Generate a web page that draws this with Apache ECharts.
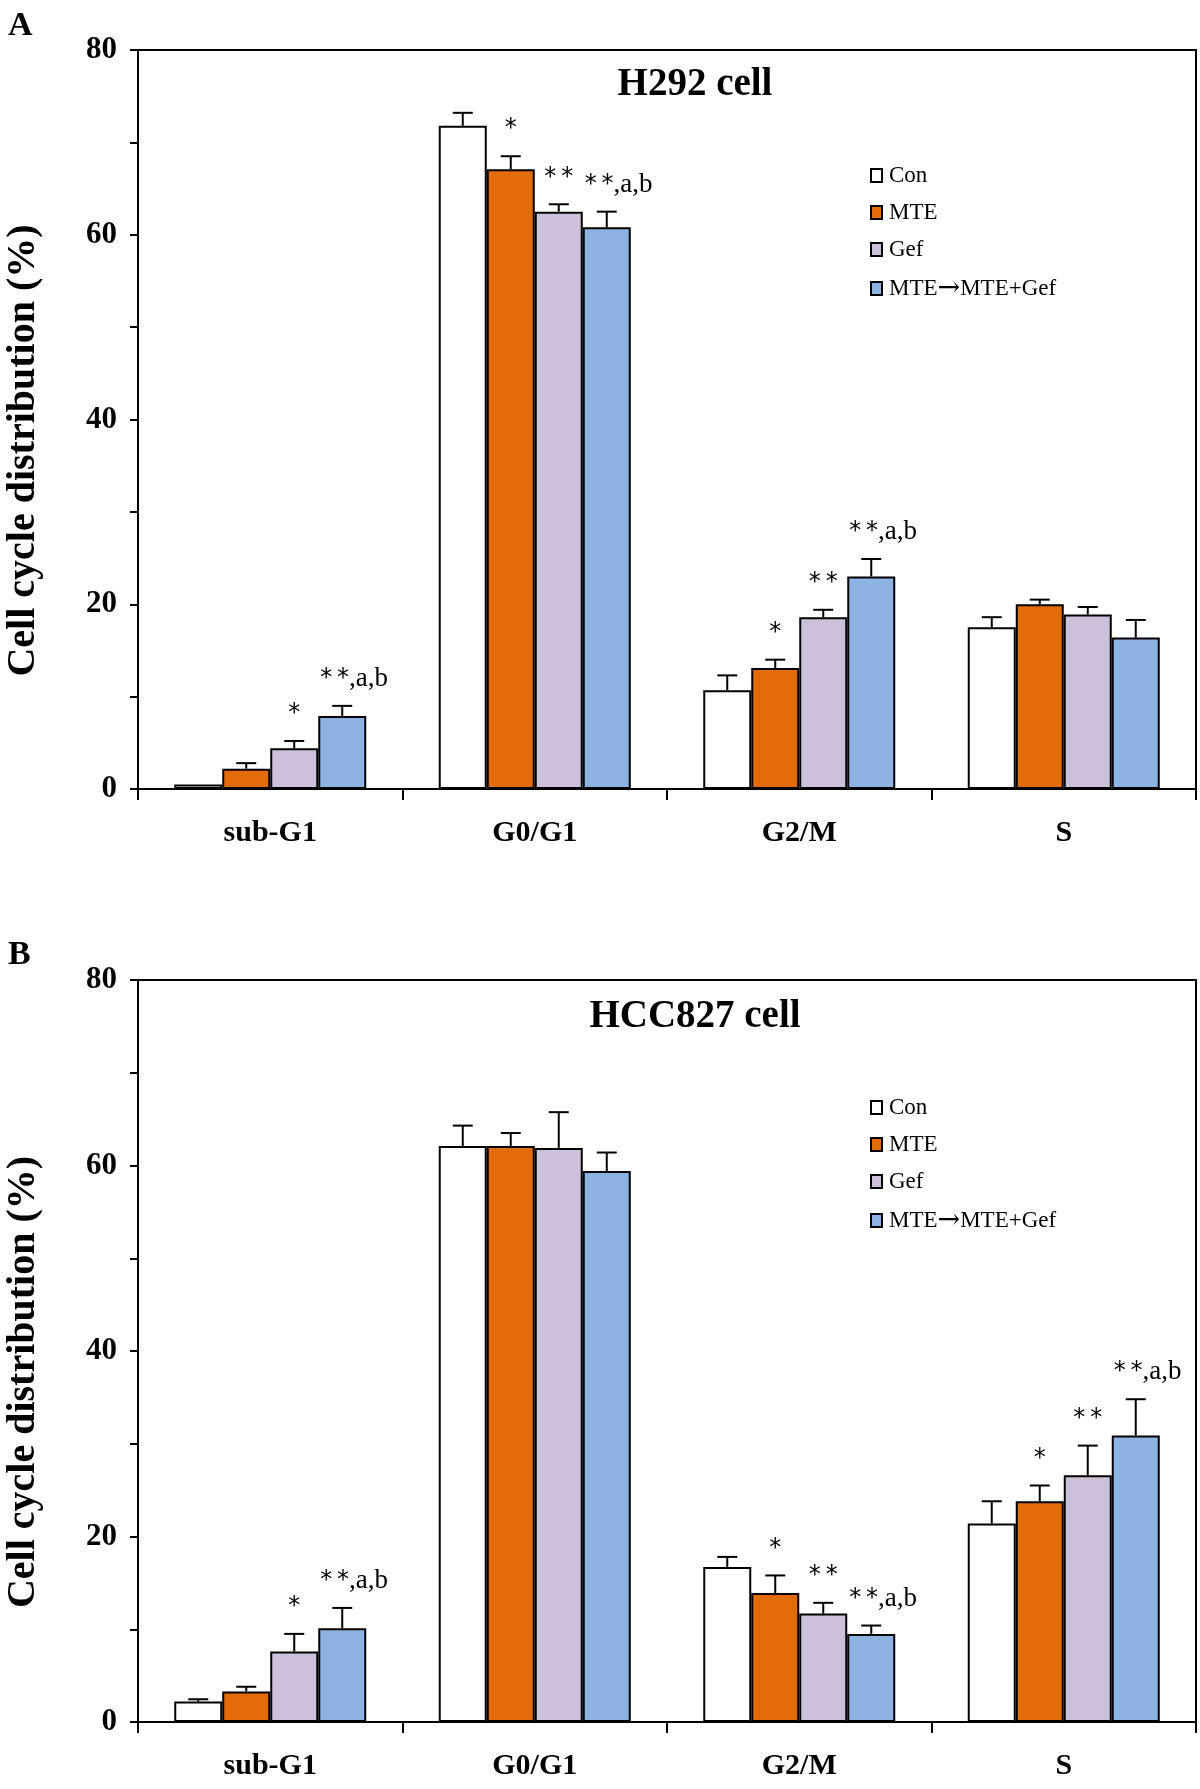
<!DOCTYPE html>
<html>
<head>
<meta charset="utf-8">
<script src="https://cdn.jsdelivr.net/npm/echarts@6/dist/echarts.min.js"></script>
<style>
html,body{margin:0;padding:0;background:#fff;}
#chart{width:1200px;height:1789px;}
</style>
</head>
<body>
<div id="chart"></div>
<script>
// ---- data ----
const categories = ['sub-G1', 'G0/G1', 'G2/M', 'S'];
const seriesNames = ['Con', 'MTE', 'Gef', 'MTE\u2192MTE+Gef'];
const yTicks = [0, 20, 40, 60, 80];

// Panel A : H292 cell
const h292Con    = [0.5, 71.8, 10.7, 17.5];
const h292ConErr = [0.0, 1.4, 1.6, 1.1];
const h292Mte    = [2.2, 67.1, 13.1, 20.0];
const h292MteErr = [0.6, 1.4, 0.9, 0.5];
const h292Gef    = [4.4, 62.5, 18.6, 18.9];
const h292GefErr = [0.8, 0.8, 0.8, 0.8];
const h292Comb   = [7.9, 60.8, 23.0, 16.4];
const h292CombErr= [1.1, 1.7, 1.9, 1.9];
const h292Sig = [
  ['', '', '', ''],
  ['', '*', '*', ''],
  ['*', '**', '**', ''],
  ['**,a,b', '**,a,b', '**,a,b', '']
];

// Panel B : HCC827 cell
const hccCon    = [2.2, 62.1, 16.7, 21.4];
const hccConErr = [0.25, 2.2, 1.1, 2.4];
const hccMte    = [3.3, 62.1, 13.9, 23.8];
const hccMteErr = [0.5, 1.4, 1.9, 1.7];
const hccGef    = [7.6, 61.9, 11.7, 26.6];
const hccGefErr = [1.9, 3.85, 1.15, 3.2];
const hccComb   = [10.1, 59.4, 9.5, 30.9];
const hccCombErr= [2.2, 2.0, 0.9, 3.9];
const hccSig = [
  ['', '', '', ''],
  ['', '', '*', '*'],
  ['*', '', '**', '**'],
  ['**,a,b', '', '**,a,b', '**,a,b']
];

// ---- styling ----
const FONT = '"Liberation Serif", "Times New Roman", serif';
const SANS = '"DejaVu Sans", "Liberation Sans", sans-serif';
const colors = ['#FFFFFF', '#E36C0A', '#CCC0DA', '#8DB3E2'];
const BAR_W = 48;

const panels = [
  {label:'A', title:'H292 cell', vals:[h292Con,h292Mte,h292Gef,h292Comb],
   errs:[h292ConErr,h292MteErr,h292GefErr,h292CombErr], sig:h292Sig,
   top:50, height:739, labelTop:9, titleTop:65, legendTop:164},
  {label:'B', title:'HCC827 cell', vals:[hccCon,hccMte,hccGef,hccComb],
   errs:[hccConErr,hccMteErr,hccGefErr,hccCombErr], sig:hccSig,
   top:980, height:742, labelTop:938, titleTop:997, legendTop:1096}
];

function sigRich(t) {
  // asterisks drawn in a sans face with a little spacing, the rest in serif
  const m = t.match(/^(\*+)(.*)$/);
  const stars = m[1].split('').join('\u2009');
  return '{s|' + stars + '}' + (m[2] ? '{t|' + m[2] + '}' : '');
}

const grids = [], xAxes = [], yAxes = [], series = [], titles = [], legends = [];

panels.forEach((p, g) => {
  grids.push({left:138, right:4, top:p.top, height:p.height, show:true,
    containLabel:false, outerBoundsMode:'none',
    borderColor:'#000', borderWidth:2, backgroundColor:'transparent'});
  xAxes.push({type:'category', gridIndex:g, data:categories,
    axisLine:{lineStyle:{color:'#000', width:2}},
    axisTick:{show:true, length:11, alignWithLabel:false, lineStyle:{color:'#000', width:2}},
    axisLabel:{margin:29, fontFamily:FONT, fontWeight:'bold', fontSize:30, color:'#000'}
  });
  yAxes.push({type:'value', gridIndex:g, min:0, max:80, interval:10,
    name:'Cell cycle distribution (%)', nameLocation:'middle', nameGap:94,
    nameTextStyle:{fontFamily:FONT, fontWeight:'bold', fontSize:40, color:'#000', padding:[0,62,0,0]},
    axisLine:{show:true, lineStyle:{color:'#000', width:2}},
    axisTick:{show:true, length:8, lineStyle:{color:'#000', width:2}},
    splitLine:{show:false},
    axisLabel:{margin:21, fontFamily:FONT, fontWeight:'bold', fontSize:31, color:'#000',
      formatter: v => yTicks.indexOf(v) >= 0 ? String(v) : ''}
  });
  titles.push({text:p.label, left:8, top:p.labelTop, padding:0,
    textStyle:{fontFamily:FONT, fontWeight:'bold', fontSize:34, color:'#000'}});
  titles.push({text:p.title, left:695, textAlign:'center', top:p.titleTop, padding:0,
    textStyle:{fontFamily:FONT, fontWeight:'bold', fontSize:39, color:'#000'}});
  legends.push({data:seriesNames, orient:'vertical', left:870, top:p.legendTop, padding:0,
    itemWidth:11, itemHeight:13, itemGap:14, icon:'rect',
    itemStyle:{borderColor:'#000', borderWidth:2},
    formatter: name => name.replace('\u2192', '{arr|\u2192}'),
    textStyle:{fontFamily:FONT, fontSize:23, color:'#000', padding:[0,0,0,2],
      rich:{arr:{fontFamily:'"DejaVu Serif", "DejaVu Sans", serif', fontSize:27, color:'#000'}}}});

  seriesNames.forEach((name, s) => {
    series.push({type:'bar', name:name, xAxisIndex:g, yAxisIndex:g,
      data:p.vals[s], barWidth:BAR_W, barGap:'0%',
      itemStyle:{color:colors[s], borderColor:'#000', borderWidth:2},
      emphasis:{disabled:true}, z:2});
  });
  seriesNames.forEach((name, s) => {
    const vals = p.vals[s], errs = p.errs[s], sig = p.sig[s];
    series.push({type:'custom', xAxisIndex:g, yAxisIndex:g, z:5, silent:true,
      data: vals.map((v, i) => [i, v, errs[i]]),
      renderItem: (params, api) => {
        const i = params.dataIndex;
        const ci = api.value(0), v = api.value(1), e = api.value(2);
        const base = api.coord([ci, v]);
        const tp = api.coord([ci, v + e]);
        const x = base[0] + (s - 1.5) * BAR_W;
        const children = [];
        if (e > 0) {
          children.push({type:'line', shape:{x1:x, y1:base[1], x2:x, y2:tp[1]},
            style:{stroke:'#000', lineWidth:2}});
          children.push({type:'line', shape:{x1:x-10, y1:tp[1], x2:x+10, y2:tp[1]},
            style:{stroke:'#000', lineWidth:2}});
        }
        const t = sig[i];
        if (t) {
          const multi = t.indexOf(',') >= 0;
          children.push({type:'text', x: multi ? x - 22 : x, y: tp[1] - 13,
            style:{text:sigRich(t), fill:'#000',
              align: multi ? 'left' : 'center', verticalAlign:'bottom',
              rich:{
                s:{fontFamily:SANS, fontSize:24, color:'#000', lineHeight:28},
                t:{fontFamily:FONT, fontSize:27, color:'#000', lineHeight:28}
              }}});
        }
        return {type:'group', children:children};
      }
    });
  });
});

const chart = echarts.init(document.getElementById('chart'), null, {renderer:'canvas'});
chart.setOption({
  animation:false,
  backgroundColor:'#fff',
  title:titles, legend:legends, grid:grids, xAxis:xAxes, yAxis:yAxes, series:series
});
</script>
</body>
</html>
